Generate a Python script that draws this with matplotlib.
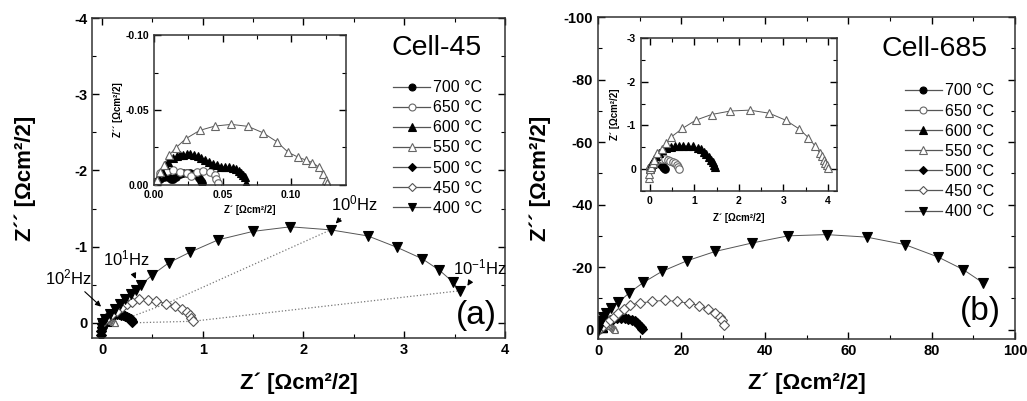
import matplotlib
matplotlib.use("Agg")
import matplotlib.pyplot as plt
from matplotlib.lines import Line2D
from matplotlib.ticker import MultipleLocator, FormatStrFormatter

plt.rcParams['font.family'] = ['Liberation Sans', 'DejaVu Sans']
plt.rcParams['font.weight'] = 'bold'
plt.rcParams['axes.labelweight'] = 'bold'
plt.rcParams['mathtext.default'] = 'regular'
plt.rcParams['axes.unicode_minus'] = False

labels = ['700 °C', '650 °C', '600 °C', '550 °C', '500 °C', '450 °C', '400 °C']

# ---- Cell-45 data (Z', Z'') ----
c45_700_x = [0.000, 0.002, 0.004, 0.007, 0.010, 0.012, 0.014, 0.016, 0.019, 0.021, 0.024, 0.026, 0.029, 0.031, 0.033, 0.034, 0.035]
c45_700_y = [0.000, -0.002, -0.004, -0.0055, -0.005, -0.0038, -0.0042, -0.005, -0.007, -0.0078, -0.0082, -0.0082, -0.0075, -0.0067, -0.0044, -0.0025, -0.001]
c45_650_x = [0.001, 0.0043, 0.0092, 0.014, 0.0188, 0.0237, 0.0273, 0.031, 0.0357, 0.0406, 0.0442, 0.0454, 0.0466]
c45_650_y = [-0.002, -0.0078, -0.0096, -0.010, -0.0089, -0.0078, -0.006, -0.0084, -0.0096, -0.0089, -0.0067, -0.0038, -0.0011]
c45_600_x = [0.001, 0.003, 0.0055, 0.008, 0.0104, 0.0135, 0.0164, 0.019, 0.0213, 0.0237, 0.0261, 0.029, 0.032, 0.0345,
             0.037, 0.040, 0.043, 0.046, 0.049, 0.052, 0.055, 0.0575, 0.060, 0.062, 0.0635, 0.065, 0.066, 0.067]
c45_600_y = [-0.001, -0.0055, -0.0095, -0.013, -0.0156, -0.018, -0.0193, -0.0198, -0.020, -0.0205, -0.0207, -0.0202, -0.0193, -0.018,
             -0.0167, -0.0153, -0.014, -0.013, -0.0122, -0.012, -0.0118, -0.011, -0.0104, -0.0093, -0.0082, -0.0065, -0.005, -0.0015]
c45_550_x = [0.0005, 0.0024, 0.0043, 0.0072, 0.0111, 0.016, 0.0232, 0.0333, 0.0444, 0.0563, 0.0684, 0.0792, 0.0894,
             0.0978, 0.1053, 0.1106, 0.1155, 0.1203, 0.1232, 0.1251, 0.1261]
c45_550_y = [0.0, -0.0033, -0.0089, -0.0133, -0.020, -0.0249, -0.0309, -0.0364, -0.0393, -0.0404, -0.0391, -0.0349, -0.0289,
             -0.0218, -0.0184, -0.0167, -0.0149, -0.0118, -0.0073, -0.0033, -0.0011]
c45_500_x = [-0.01, -0.01, -0.005, 0.0, 0.01, 0.03, 0.05, 0.07, 0.09, 0.11, 0.13, 0.15, 0.17, 0.19, 0.21, 0.23, 0.25, 0.27, 0.285, 0.295, 0.30]
c45_500_y = [0.16, 0.11, 0.06, 0.02, -0.02, -0.05, -0.075, -0.095, -0.11, -0.12, -0.122, -0.12, -0.115, -0.108, -0.10, -0.09, -0.078, -0.06, -0.045, -0.025, -0.005]
c45_450_x = [0.02, 0.06, 0.10, 0.15, 0.20, 0.25, 0.295, 0.37, 0.46, 0.54, 0.635, 0.72, 0.79, 0.84, 0.87, 0.885, 0.90]
c45_450_y = [-0.03, -0.07, -0.11, -0.16, -0.21, -0.25, -0.27, -0.31, -0.30, -0.29, -0.25, -0.22, -0.18, -0.14, -0.10, -0.06, -0.02]
c45_400_x = [0.0, 0.0, 0.027, 0.076, 0.126, 0.175, 0.225, 0.29, 0.34, 0.39, 0.50, 0.665, 0.87, 1.155, 1.50, 1.87,
             2.27, 2.64, 2.93, 3.18, 3.35, 3.48, 3.55]
c45_400_y = [0.12, 0.0, -0.05, -0.11, -0.18, -0.25, -0.31, -0.38, -0.43, -0.50, -0.63, -0.79, -0.925, -1.09, -1.20, -1.26,
             -1.22, -1.14, -0.99, -0.84, -0.69, -0.54, -0.42]

# iso-frequency guide lines (dotted)
f1_x = [0.31, 0.635, 2.27]
f1_y = [-0.09, -0.25, -1.22]
f01_x = [0.31, 0.90, 3.55]
f01_y = [0.0, -0.02, -0.42]

# ---- Cell-685 data ----
c685_700_x = [0.0, 0.03, 0.07, 0.11, 0.15, 0.19, 0.23, 0.27, 0.30, 0.32, 0.33]
c685_700_y = [0.0, -0.05, -0.09, -0.115, -0.13, -0.13, -0.12, -0.09, -0.06, -0.03, 0.0]
c685_650_x = [0.0, 0.03, 0.07, 0.12, 0.17, 0.22, 0.28, 0.34, 0.40, 0.46, 0.51, 0.56, 0.60, 0.63, 0.65]
c685_650_y = [0.0, -0.06, -0.12, -0.17, -0.21, -0.23, -0.24, -0.235, -0.21, -0.19, -0.17, -0.13, -0.09, -0.05, -0.01]
c685_600_x = [0.0, 0.02, 0.05, 0.09, 0.14, 0.20, 0.28, 0.37, 0.47, 0.56, 0.65, 0.75, 0.86, 0.96, 1.07, 1.15, 1.21,
              1.27, 1.33, 1.37, 1.41, 1.44, 1.46]
c685_600_y = [0.0, -0.07, -0.15, -0.23, -0.31, -0.38, -0.43, -0.48, -0.51, -0.525, -0.53, -0.535, -0.53, -0.52, -0.49,
              -0.45, -0.40, -0.34, -0.28, -0.22, -0.17, -0.10, -0.05]
c685_550_x = [-0.02, -0.01, 0.0, 0.02, 0.06, 0.10, 0.17, 0.27, 0.37, 0.485, 0.73, 1.03, 1.385, 1.81, 2.24, 2.68, 3.05,
              3.36, 3.56, 3.71, 3.82, 3.86, 3.90, 3.94, 3.97, 4.01]
c685_550_y = [0.2, 0.1, 0.0, -0.06, -0.13, -0.21, -0.36, -0.47, -0.59, -0.74, -0.93, -1.12, -1.25, -1.33, -1.35, -1.28,
              -1.12, -0.915, -0.72, -0.53, -0.36, -0.29, -0.21, -0.15, -0.09, -0.02]
c685_500_x = [0.0, 0.3, 0.8, 1.4, 2.1, 2.9, 3.7, 4.6, 5.5, 6.4, 7.3, 8.1, 8.8, 9.4, 9.9, 10.3, 10.6]
c685_500_y = [0.0, -0.8, -1.5, -2.1, -2.7, -3.1, -3.4, -3.6, -3.7, -3.65, -3.45, -3.1, -2.6, -2.0, -1.4, -0.8, -0.2]
c685_450_x = [0.0, 0.5, 1.2, 2.0, 2.9, 3.9, 4.9, 6.2, 7.7, 10.1, 12.9, 16.1, 18.9, 21.7, 24.3, 26.4, 28.1, 29.3, 29.8, 30.3]
c685_450_y = [0.0, -0.6, -1.3, -2.1, -3.0, -4.0, -5.3, -6.6, -8.0, -8.5, -9.0, -9.4, -9.0, -8.5, -7.7, -6.6, -5.3, -4.1, -3.0, -1.6]
c685_400_x = [0.0, 0.2, 0.6, 1.1, 1.9, 3.1, 4.9, 7.5, 10.9, 15.3, 21.3, 28.1, 36.9, 45.6, 54.8, 64.4, 73.6, 81.6, 87.6, 92.4]
c685_400_y = [0.0, -1.5, -2.8, -4.0, -5.2, -6.9, -8.7, -11.8, -15.1, -18.6, -22.0, -25.0, -27.7, -30.0, -30.4, -29.6,
              -27.2, -23.2, -19.2, -14.9]

c45 = [(c45_700_x, c45_700_y), (c45_650_x, c45_650_y), (c45_600_x, c45_600_y), (c45_550_x, c45_550_y),
       (c45_500_x, c45_500_y), (c45_450_x, c45_450_y), (c45_400_x, c45_400_y)]
c685 = [(c685_700_x, c685_700_y), (c685_650_x, c685_650_y), (c685_600_x, c685_600_y), (c685_550_x, c685_550_y),
        (c685_500_x, c685_500_y), (c685_450_x, c685_450_y), (c685_400_x, c685_400_y)]

# marker styles per temperature
markers = ['o', 'o', '^', '^', 'D', 'D', 'v']
faces = ['black', 'white', 'black', 'white', 'black', 'white', 'black']
edges = ['black', '#666666', 'black', '#666666', 'black', '#555555', 'black']
sizes = [6, 6, 6.5, 6.5, 5, 5, 7]
leg_sizes = [5, 5, 6, 6, 4.5, 4.5, 6]


def draw(ax, data, idx, scale=1.0):
    for i in idx:
        x, y = data[i]
        s = scale if i < 4 else 1.0
        ax.plot(x, y, color='#555555', lw=0.7, marker=markers[i], ms=sizes[i] * s,
                mfc=faces[i], mec=edges[i], mew=0.8)


def style(ax, xmaj, xmin, ymaj, ymin, size):
    ax.xaxis.set_major_locator(MultipleLocator(xmaj))
    ax.xaxis.set_minor_locator(MultipleLocator(xmin))
    ax.yaxis.set_major_locator(MultipleLocator(ymaj))
    ax.yaxis.set_minor_locator(MultipleLocator(ymin))
    ax.tick_params(which='both', direction='in', top=True, right=True, labelsize=size)
    ax.tick_params(which='major', length=5, width=1)
    ax.tick_params(which='minor', length=3, width=0.8)
    for s in ax.spines.values():
        s.set_linewidth(1.1)
        s.set_color('#333333')


def legend(ax, x0, yc):
    handles = [Line2D([], [], color='#555555', lw=0.9, marker=markers[i], ms=leg_sizes[i],
                      mfc=faces[i], mec=edges[i], mew=0.8) for i in range(7)]
    ax.legend(handles, labels, loc='center left', bbox_to_anchor=(x0, yc), frameon=False,
              prop={'weight': 'normal', 'size': 11.5}, labelspacing=0.32, handlelength=2.3,
              handletextpad=0.2, borderpad=0, borderaxespad=0)


fig = plt.figure(figsize=(10.27, 4.01), dpi=100)
axL = fig.add_axes([0.0896, 0.157, 0.402, 0.798])
axR = fig.add_axes([0.5823, 0.1546, 0.406, 0.803])
inL = fig.add_axes([0.15, 0.5387, 0.187, 0.374])
inR = fig.add_axes([0.6241, 0.5237, 0.1908, 0.3815])

# ---- panel (a) ----
axL.plot(f1_x, f1_y, ':', color='#777777', lw=0.9)
axL.plot(f01_x, f01_y, ':', color='#777777', lw=0.9)
draw(axL, c45, range(7), scale=0.6)
axL.set_xlim(-0.1, 4)
axL.set_ylim(0.2, -4)
style(axL, 1, 0.5, 1, 0.5, 10.5)
axL.set_xlabel('Z´ [Ωcm²/2]', fontsize=16, va='center')
axL.set_ylabel('Z´´ [Ωcm²/2]', fontsize=16, va='center')
axL.xaxis.set_label_coords(0.5, -0.14)
axL.yaxis.set_label_coords(-0.162, 0.5)
legend(axL, 0.73, 0.594)
axL.text(0.835, 0.905, 'Cell-45', transform=axL.transAxes, fontsize=20.5, fontweight='normal',
         ha='center', va='center')
axL.text(0.932, 0.072, '(a)', transform=axL.transAxes, fontsize=24, fontweight='normal',
         ha='center', va='center')

arrow = dict(arrowstyle='-|>', color='black', lw=0.8, mutation_scale=8, shrinkA=2, shrinkB=1)
axL.annotate('10$^2$Hz', xy=(0.0, -0.2), xytext=(-0.33, -0.6), fontsize=12, fontweight='normal',
             ha='center', va='center', arrowprops=arrow, annotation_clip=False)
axL.annotate('10$^1$Hz', xy=(0.34, -0.56), xytext=(0.245, -0.85), fontsize=12, fontweight='normal',
             ha='center', va='center', arrowprops=arrow)
axL.annotate('10$^0$Hz', xy=(2.31, -1.29), xytext=(2.51, -1.56), fontsize=12, fontweight='normal',
             ha='center', va='center', arrowprops=arrow)
axL.annotate('10$^{-1}$Hz', xy=(3.62, -0.47), xytext=(3.75, -0.73), fontsize=12, fontweight='normal',
             ha='center', va='center', arrowprops=arrow)

draw(inL, c45, range(4), scale=0.9)
inL.set_xlim(0, 0.14)
inL.set_ylim(0, -0.10)
style(inL, 0.05, 0.025, 0.05, 0.025, 7.5)
inL.xaxis.set_major_formatter(FormatStrFormatter('%.2f'))
inL.yaxis.set_major_formatter(FormatStrFormatter('%.2f'))
inL.set_xlabel('Z´ [Ωcm²/2]', fontsize=7, va='center')
inL.set_ylabel('Z´´ [Ωcm²/2]', fontsize=7, va='center')
inL.xaxis.set_label_coords(0.5, -0.17)
inL.yaxis.set_label_coords(-0.19, 0.5)

# ---- panel (b) ----
draw(axR, c685, range(7), scale=0.6)
axR.set_xlim(0, 100)
axR.set_ylim(3, -100)
style(axR, 20, 10, 20, 10, 10.5)
axR.set_xlabel('Z´ [Ωcm²/2]', fontsize=16, va='center')
axR.set_ylabel('Z´´ [Ωcm²/2]', fontsize=16, va='center')
axR.xaxis.set_label_coords(0.5, -0.137)
axR.yaxis.set_label_coords(-0.139, 0.5)
legend(axR, 0.736, 0.583)
axR.text(0.808, 0.90, 'Cell-685', transform=axR.transAxes, fontsize=20.5, fontweight='normal',
         ha='center', va='center')
axR.text(0.916, 0.084, '(b)', transform=axR.transAxes, fontsize=24, fontweight='normal',
         ha='center', va='center')

draw(inR, c685, range(4), scale=0.9)
inR.set_xlim(-0.2, 4.2)
inR.set_ylim(0.5, -3)
style(inR, 1, 0.5, 1, 0.5, 7.5)
inR.set_xlabel('Z´ [Ωcm²/2]', fontsize=7, va='center')
inR.set_ylabel('Z´ [Ωcm²/2]', fontsize=7, va='center')
inR.xaxis.set_label_coords(0.5, -0.176)
inR.yaxis.set_label_coords(-0.133, 0.5)

fig.savefig('out.png', dpi=100)
